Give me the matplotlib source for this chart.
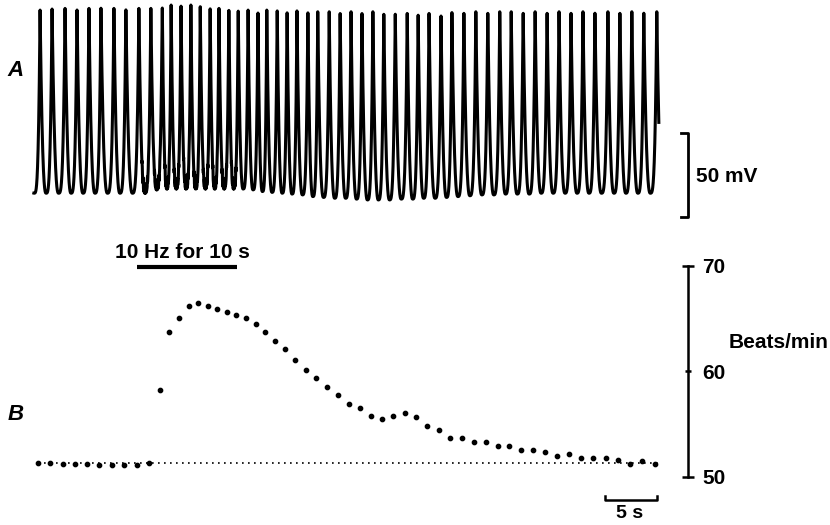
import numpy as np
import matplotlib.pyplot as plt

plt.rcParams['font.family'] = ['Liberation Sans', 'DejaVu Sans']

# -------------------------------
# Data
# -------------------------------
# beat times (s)
beat_t = [0.1, 1.25, 2.5, 3.65, 4.8, 5.95, 7.2, 8.35, 9.6, 10.75,
          11.85, 12.7, 13.65, 14.6, 15.5, 16.45, 17.3, 18.25, 19.15, 20.1,
          21.05, 21.9, 22.9, 23.85, 24.8, 25.85, 26.8, 27.9, 28.95, 30.0,
          31.05, 32.1, 33.15, 34.25, 35.4, 36.45, 37.5, 38.65, 39.7, 40.85,
          42.0, 43.15, 44.3, 45.4, 46.55, 47.7, 48.85, 50.0, 51.15, 52.3,
          53.45, 54.7, 55.85, 57.0, 58.15, 59.4]

# instantaneous rate for each beat (beats/min)
rate_bpm = [51.3, 51.3, 51.2, 51.2, 51.25, 51.15, 51.15, 51.1, 51.15, 51.3,
            58.2, 63.7, 65.1, 66.2, 66.5, 66.2, 65.9, 65.6, 65.35, 65.05,
            64.5, 63.7, 62.9, 62.1, 61.1, 60.1, 59.35, 58.5, 57.8, 56.9,
            56.5, 55.8, 55.5, 55.8, 56.05, 55.65, 54.8, 54.45, 53.7, 53.7,
            53.3, 53.3, 52.9, 52.9, 52.5, 52.5, 52.3, 51.95, 52.15, 51.75,
            51.75, 51.75, 51.55, 51.2, 51.5, 51.2]
baseline_bpm = 51.27

# action potential overshoot for each beat (mV)
peak_mv = [49, 50.5, 50, 50, 50, 51, 50, 50, 50, 51,
           51.5, 52, 52.5, 52, 51, 51, 50, 50, 49.5, 49, 48.5, 49, 48.5,
           48.5, 48.5, 48.5, 48, 48, 48, 48, 48, 48, 47.5, 47.5, 47, 47, 47,
           46.5, 47.5, 48, 48, 48, 48, 48,
           48, 48, 48, 48, 48, 48, 48, 48, 48, 48, 48, 48]

# maximum diastolic potential before / between / after beats (mV)
trough_mv = [-60,
             -60, -60, -60, -60, -60, -60, -60, -60, -60, -58,
             -57.5, -57.5, -57.5, -57.5, -57.5, -57.5, -57.5, -57.5, -57.5,
             -58, -59, -59.5, -60, -60.5, -61,
             -62, -62.5, -63, -63, -63.5, -64, -64, -64, -63.5, -63.5,
             -63, -63, -62.5, -62, -61.5,
             -61, -61, -60.5, -60.5, -60.5, -60, -60, -60, -60, -60,
             -60, -60, -60, -60, -60,
             -60]

stim_on, stim_off, stim_hz = 9.6, 19.2, 10
trace_start, trace_end = -0.3, 59.8

# -------------------------------
# Build the membrane potential trace
# -------------------------------
pk = np.array(beat_t) + 0.2
pk_ext = np.concatenate([[pk[0] - (pk[1] - pk[0])], pk, [pk[-1] + (pk[-1] - pk[-2])]])
hi_ext = np.concatenate([[peak_mv[0]], peak_mv, [peak_mv[-1]]])
lo_ext = np.array(trough_mv, dtype=float)

t = np.arange(trace_start, trace_end, 0.004)
i = np.searchsorted(pk_ext, t, side='right') - 1
ph = (t - pk_ext[i]) / (pk_ext[i + 1] - pk_ext[i])
shape = np.where(ph < 0.5, np.clip(1 - 2 * ph, 0, 1) ** 2.5, np.clip(2 * ph - 1, 0, 1) ** 3.5)
hi = np.where(ph < 0.5, hi_ext[i], hi_ext[i + 1])
v = lo_ext[i] + shape * (hi - lo_ext[i])

# stimulus artefacts during the 10 Hz train (visible near the troughs)
stim = (t >= stim_on) & (t < stim_off)
art = stim & ((((t - stim_on) * stim_hz) % 1) < 0.3)
v = v + np.where(art, 5.0, 0.0) * (1 - shape) ** 6

# -------------------------------
# Figure
# -------------------------------
fig = plt.figure(figsize=(8.3, 5.25), dpi=100)
x0, w = 30 / 830, 658 / 830
xlim = (-0.67, 62.6)

ax_a = fig.add_axes([x0, 1 - 218.4 / 525, w, 218.4 / 525])
ax_b = fig.add_axes([x0, 1 - 476.7 / 525, w, (476.7 - 266) / 525])

# Panel A
ax_a.plot(t, v, color='k', lw=2.2, solid_joinstyle='round')
ax_a.set_xlim(xlim)
ax_a.set_ylim(-75, 55)
ax_a.axis('off')
ax_a.plot([61.93, 62.6, 62.6, 61.93], [-24.1, -24.1, -74.1, -74.1],
          color='k', lw=2.0, clip_on=False)
fig.text(696 / 830, 1 - 177 / 525, '50 mV', fontsize=15, fontweight='bold',
         ha='left', va='center')

# Panel B
ax_b.plot([0.1, 59.9], [baseline_bpm, baseline_bpm], color='k', lw=1.2,
          linestyle=(0, (1, 2.6)))
ax_b.plot(beat_t, rate_bpm, 'o', color='k', ms=3.1)
ax_b.set_xlim(xlim)
ax_b.set_ylim(50, 70)
for s in ['left', 'top', 'bottom']:
    ax_b.spines[s].set_visible(False)
ax_b.spines['right'].set_linewidth(1.8)
ax_b.set_xticks([])
ax_b.yaxis.tick_right()
ax_b.set_yticks([50, 60, 70])
ax_b.tick_params(axis='y', direction='inout', length=8.6, width=1.8,
                 labelsize=15, pad=6)
for lab in ax_b.get_yticklabels():
    lab.set_fontweight('bold')
ax_b.yaxis.get_major_ticks()[1].tick2line.set_markersize(4.3)

# stimulation bar
ax_b.plot([stim_on, stim_off], [69.94, 69.94], color='k', lw=3,
          solid_capstyle='butt', clip_on=False)
ax_b.text(14.0, 70.77, '10 Hz for 10 s', fontsize=15, fontweight='bold',
          ha='center', va='baseline')

# time scale bar
ax_b.plot([54.6, 54.6, 59.6, 59.6], [48.2, 47.79, 47.79, 48.2], color='k',
          lw=1.8, clip_on=False)
ax_b.text(57.0, 46.55, '5 s', fontsize=14, fontweight='bold',
          ha='center', va='center')

fig.text(779 / 830, 1 - 342 / 525, 'Beats/min', fontsize=15, fontweight='bold',
         ha='center', va='center')
fig.text(16 / 830, 1 - 70 / 525, 'A', fontsize=16, fontweight='bold',
         fontstyle='italic', ha='center', va='center')
fig.text(16 / 830, 1 - 415 / 525, 'B', fontsize=16, fontweight='bold',
         fontstyle='italic', ha='center', va='center')

fig.savefig('out.png', dpi=100)
